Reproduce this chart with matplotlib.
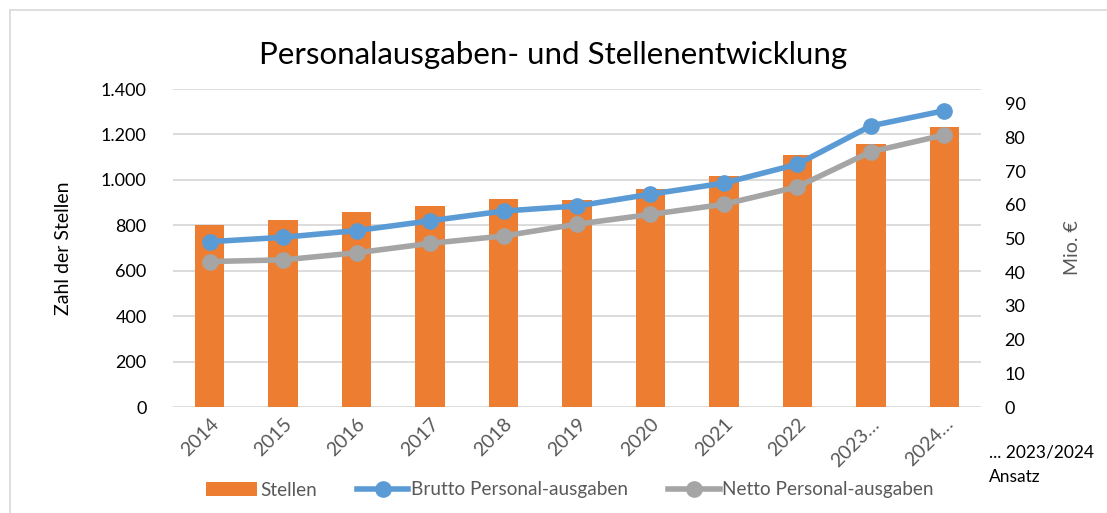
import numpy as np
import matplotlib.pyplot as plt
from matplotlib.lines import Line2D
from matplotlib.ticker import FuncFormatter

# Daten
jahre = ['2014', '2015', '2016', '2017', '2018', '2019', '2020', '2021',
         '2022', '2023…', '2024…']
stellen = [801, 822, 857, 886, 916, 911, 960, 1016, 1108, 1159, 1233]
brutto = [49.1, 50.4, 52.4, 55.3, 58.2, 59.7, 63.2, 66.5, 72.1, 83.5, 88.0]
netto = [43.2, 43.7, 45.8, 48.6, 50.8, 54.3, 57.2, 60.2, 65.4, 75.8, 80.8]

orange = '#ED7D31'
blau = '#5B9BD5'
grau = '#A5A5A5'
text_grau = '#595959'

plt.rcParams['font.family'] = ['Lato', 'DejaVu Sans']

fig = plt.figure(figsize=(11.07, 5.13), dpi=100)
ax = fig.add_axes([173 / 1107, 1 - 407 / 513, 808 / 1107, 318 / 513])
x = np.arange(len(jahre))

# Balken: Stellen
ax.bar(x, stellen, width=0.4, color=orange, zorder=2, label='Stellen')
ax.set_xlim(-0.5, len(jahre) - 0.5)
ax.set_ylim(0, 1400)
ax.set_yticks(np.arange(0, 1401, 200))
ax.yaxis.set_major_formatter(FuncFormatter(lambda v, p: '{:,.0f}'.format(v).replace(',', '.')))
ax.grid(axis='y', color='#D9D9D9', linewidth=1.3, zorder=0)
ax.set_axisbelow(True)
for s in ax.spines.values():
    s.set_visible(False)
ax.tick_params(axis='both', length=0)
ax.tick_params(axis='y', labelsize=13, pad=19, labelcolor='black')
ax.set_xticks(x)
ax.set_xticklabels(jahre, rotation=45, ha='right', rotation_mode='anchor',
                   fontsize=14, color=text_grau)
ax.tick_params(axis='x', pad=6)
ax.set_ylabel('Zahl der Stellen', fontsize=14, labelpad=21)

# Linien: Personalausgaben
ax2 = ax.twinx()
ax2.plot(x, brutto, color=blau, linewidth=4, marker='o', markersize=11,
         label='Brutto Personal-ausgaben', zorder=3)
ax2.plot(x, netto, color=grau, linewidth=4, marker='o', markersize=11,
         label='Netto Personal-ausgaben', zorder=3)
ax2.set_ylim(0, 94.45)
ax2.set_yticks(np.arange(0, 91, 10))
for s in ax2.spines.values():
    s.set_visible(False)
ax2.tick_params(axis='y', length=0, labelsize=13, pad=17)
ax2.set_ylabel('Mio. €', fontsize=14, color=text_grau, labelpad=28)

fig.suptitle('Personalausgaben- und Stellenentwicklung', fontsize=22.5,
             y=1 - 55 / 513, va='center')

# Legende
h1, l1 = ax.get_legend_handles_labels()
h2, l2 = ax2.get_legend_handles_labels()
leg = fig.legend(h1 + h2, l1 + l2, loc='center', bbox_to_anchor=(570 / 1107, 1 - 490 / 513),
                 ncol=3, frameon=False, fontsize=13.7, handlelength=2.7,
                 handletextpad=0.15, columnspacing=2.1)
for t in leg.get_texts():
    t.set_color(text_grau)

fig.text(989 / 1107, 1 - 452 / 513, '... 2023/2024', fontsize=12.5, va='center')
fig.text(989 / 1107, 1 - 477 / 513, 'Ansatz', fontsize=12.5, va='center')

# Rahmen
fig.add_artist(Line2D([10 / 1107, 10 / 1107], [0, 1 - 10 / 513], transform=fig.transFigure,
                      color='#D9D9D9', linewidth=1.2))
fig.add_artist(Line2D([10 / 1107, 1], [1 - 10 / 513, 1 - 10 / 513], transform=fig.transFigure,
                      color='#D9D9D9', linewidth=1.2))

fig.savefig('out.png', dpi=100)
